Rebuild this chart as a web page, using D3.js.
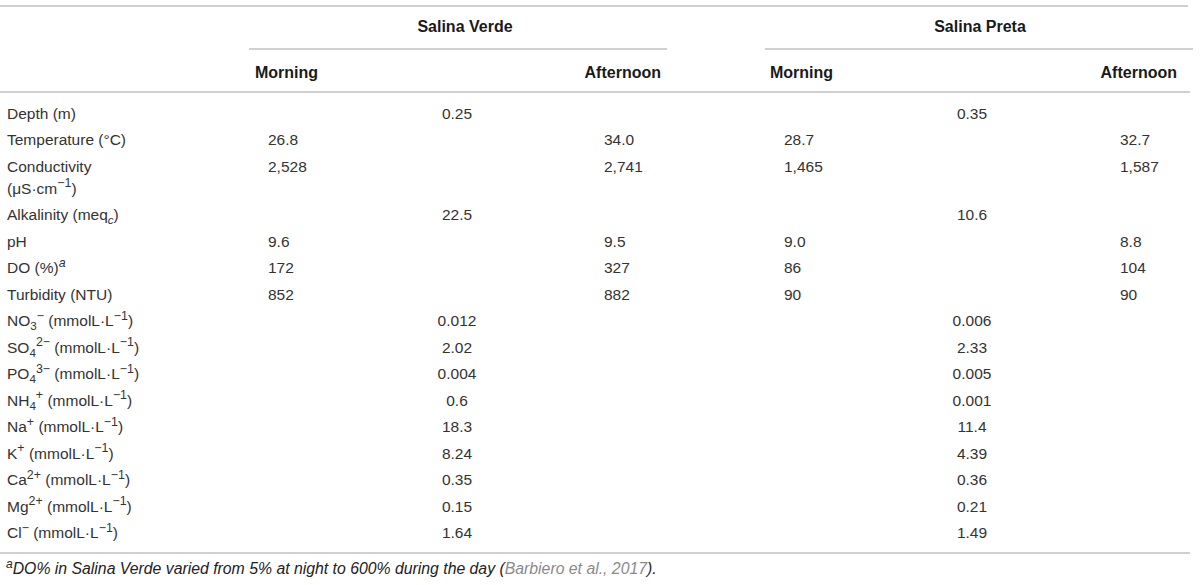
<!DOCTYPE html>
<html>
<head>
<meta charset="utf-8">
<script src="https://cdnjs.cloudflare.com/ajax/libs/d3/7.8.5/d3.min.js"></script>
<style>
  body { margin: 0; background: #fff; }
  svg { display: block; font-family: "Liberation Sans", Arial, sans-serif; }
</style>
</head>
<body>
<div id="table"></div>
<script>
// table content
var sites = ["Salina Verde", "Salina Preta"];
var periods = ["Morning", "Afternoon"];

// labels: ^{..} superscript, _{..} subscript, * = italic, | = line break
var rowLabels = [
  "Depth (m)",
  "Temperature (°C)",
  "Conductivity|(μS·cm^{−1})",
  "Alkalinity (meq_{*c})",
  "pH",
  "DO (%)^{*a}",
  "Turbidity (NTU)",
  "NO_{3}^{−} (mmolL·L^{−1})",
  "SO_{4}^{2−} (mmolL·L^{−1})",
  "PO_{4}^{3−} (mmolL·L^{−1})",
  "NH_{4}^{+} (mmolL·L^{−1})",
  "Na^{+} (mmolL·L^{−1})",
  "K^{+} (mmolL·L^{−1})",
  "Ca^{2+} (mmolL·L^{−1})",
  "Mg^{2+} (mmolL·L^{−1})",
  "Cl^{−} (mmolL·L^{−1})"
];

var svMorning   = [null, "26.8", "2,528", null, "9.6", "172", "852", null, null, null, null, null, null, null, null, null];
var svAfternoon = [null, "34.0", "2,741", null, "9.5", "327", "882", null, null, null, null, null, null, null, null, null];
var spMorning   = [null, "28.7", "1,465", null, "9.0", "86", "90", null, null, null, null, null, null, null, null, null];
var spAfternoon = [null, "32.7", "1,587", null, "8.8", "104", "90", null, null, null, null, null, null, null, null, null];
// single value for the whole day (merged cells)
var svPooled = ["0.25", null, null, "22.5", null, null, null, "0.012", "2.02", "0.004", "0.6", "18.3", "8.24", "0.35", "0.15", "1.64"];
var spPooled = ["0.35", null, null, "10.6", null, null, null, "0.006", "2.33", "0.005", "0.001", "11.4", "4.39", "0.36", "0.21", "1.49"];

var footnoteMark = "a";
var footnoteText = "DO% in Salina Verde varied from 5% at night to 600% during the day (";
var footnoteCite = "Barbiero et al., 2017";
var footnoteEnd = ").";

// layout
var w = 1200, h = 585;
var fs = 15.5;
var rowStep = 26.5, wrapStep = 22;
var firstRow = 113;
var textColor = "#333", headColor = "#1a1a1a", ruleColor = "#d0d0d0";

var colX = d3.scaleOrdinal()
  .domain(["label", "svM", "svPool", "svA", "spM", "spPool", "spA"])
  .range([7, 268, 457, 604, 784, 972, 1120]);

var svg = d3.select("#table")
  .append("svg")
  .attr("width", w)
  .attr("height", h);

// row positions (conductivity wraps to two lines)
var nLines = rowLabels.map(function(d) { return d.split("|").length; });
var offsets = [];
var acc = 0;
nLines.forEach(function(n) {
  offsets.push(acc);
  acc += rowStep + (n - 1) * wrapStep;
});
var y = d3.scaleLinear().domain([0, 1]).range([firstRow, firstRow + 1]);

function rich(sel, str) {
  var parts = str.split(/(\^\{[^}]*\}|_\{[^}]*\})/);
  var shift = 0;
  parts.forEach(function(p) {
    if (p === "") return;
    var target = 0, size = null, t = p;
    if (p[0] === "^") { target = -6.5; size = fs * 0.8; t = p.slice(2, -1); }
    else if (p[0] === "_") { target = 4; size = fs * 0.75; t = p.slice(2, -1); }
    var italic = false;
    if (t[0] === "*") { italic = true; t = t.slice(1); }
    var ts = sel.append("tspan")
      .attr("dy", target - shift)
      .text(t);
    if (size) ts.style("font-size", size + "px");
    if (italic) ts.style("font-style", "italic");
    shift = target;
  });
}

function rule(y0, x1, x2) {
  svg.append("line")
    .attr("x1", x1).attr("x2", x2)
    .attr("y1", y0).attr("y2", y0)
    .style("stroke", ruleColor)
    .style("stroke-width", 2);
}

// rules
rule(6, 0, 1188);
rule(49, 249, 667);
rule(49, 765, 1193);
rule(92, 0, 1190);
rule(553, 0, 1190);

// header
var siteX = [465, 980];
svg.selectAll("text.site")
  .data(sites)
  .enter()
  .append("text")
  .attr("class", "site")
  .attr("x", function(d, i) { return siteX[i]; })
  .attr("y", 26 + 5.5)
  .attr("text-anchor", "middle")
  .style("font-weight", "bold")
  .style("font-size", (fs + 0.5) + "px")
  .style("fill", headColor)
  .text(function(d) { return d; });

var periodPos = [
  {x: 255, anchor: "start"}, {x: 661, anchor: "end"},
  {x: 770, anchor: "start"}, {x: 1177, anchor: "end"}
];
svg.selectAll("text.period")
  .data(periods.concat(periods))
  .enter()
  .append("text")
  .attr("class", "period")
  .attr("x", function(d, i) { return periodPos[i].x; })
  .attr("y", 72 + 5.5)
  .attr("text-anchor", function(d, i) { return periodPos[i].anchor; })
  .style("font-weight", "bold")
  .style("font-size", (fs + 0.5) + "px")
  .style("fill", headColor)
  .text(function(d) { return d; });

// row labels
var labels = svg.selectAll("g.lab")
  .data(rowLabels)
  .enter()
  .append("g")
  .attr("class", "lab");

labels.each(function(d, i) {
  var g = d3.select(this);
  d.split("|").forEach(function(line, k) {
    var t = g.append("text")
      .attr("x", colX("label"))
      .attr("y", y(offsets[i] + k * wrapStep) + 5.5)
      .style("font-size", fs + "px")
      .style("fill", textColor);
    rich(t, line);
  });
});

// values
var columns = [
  {key: "svM", vals: svMorning, anchor: "start"},
  {key: "svA", vals: svAfternoon, anchor: "start"},
  {key: "spM", vals: spMorning, anchor: "start"},
  {key: "spA", vals: spAfternoon, anchor: "start"},
  {key: "svPool", vals: svPooled, anchor: "middle"},
  {key: "spPool", vals: spPooled, anchor: "middle"}
];

columns.forEach(function(c) {
  svg.selectAll("text.v-" + c.key)
    .data(c.vals.map(function(v, i) { return {v: v, i: i}; }).filter(function(d) { return d.v !== null; }))
    .enter()
    .append("text")
    .attr("class", "v-" + c.key)
    .attr("x", colX(c.key))
    .attr("y", function(d) { return y(offsets[d.i]) + 5.5; })
    .attr("text-anchor", c.anchor)
    .style("font-size", fs + "px")
    .style("fill", textColor)
    .text(function(d) { return d.v; });
});

// footnote
var fn = svg.append("text")
  .attr("x", 6)
  .attr("y", 568 + 5.5)
  .style("font-size", "15.8px")
  .style("font-style", "italic")
  .style("fill", "#222");
fn.append("tspan").attr("dy", -6).style("font-size", "12px").text(footnoteMark);
fn.append("tspan").attr("dy", 6).text(footnoteText);
fn.append("tspan").style("fill", "#8a8a8a").text(footnoteCite);
fn.append("tspan").text(footnoteEnd);
</script>
</body>
</html>
